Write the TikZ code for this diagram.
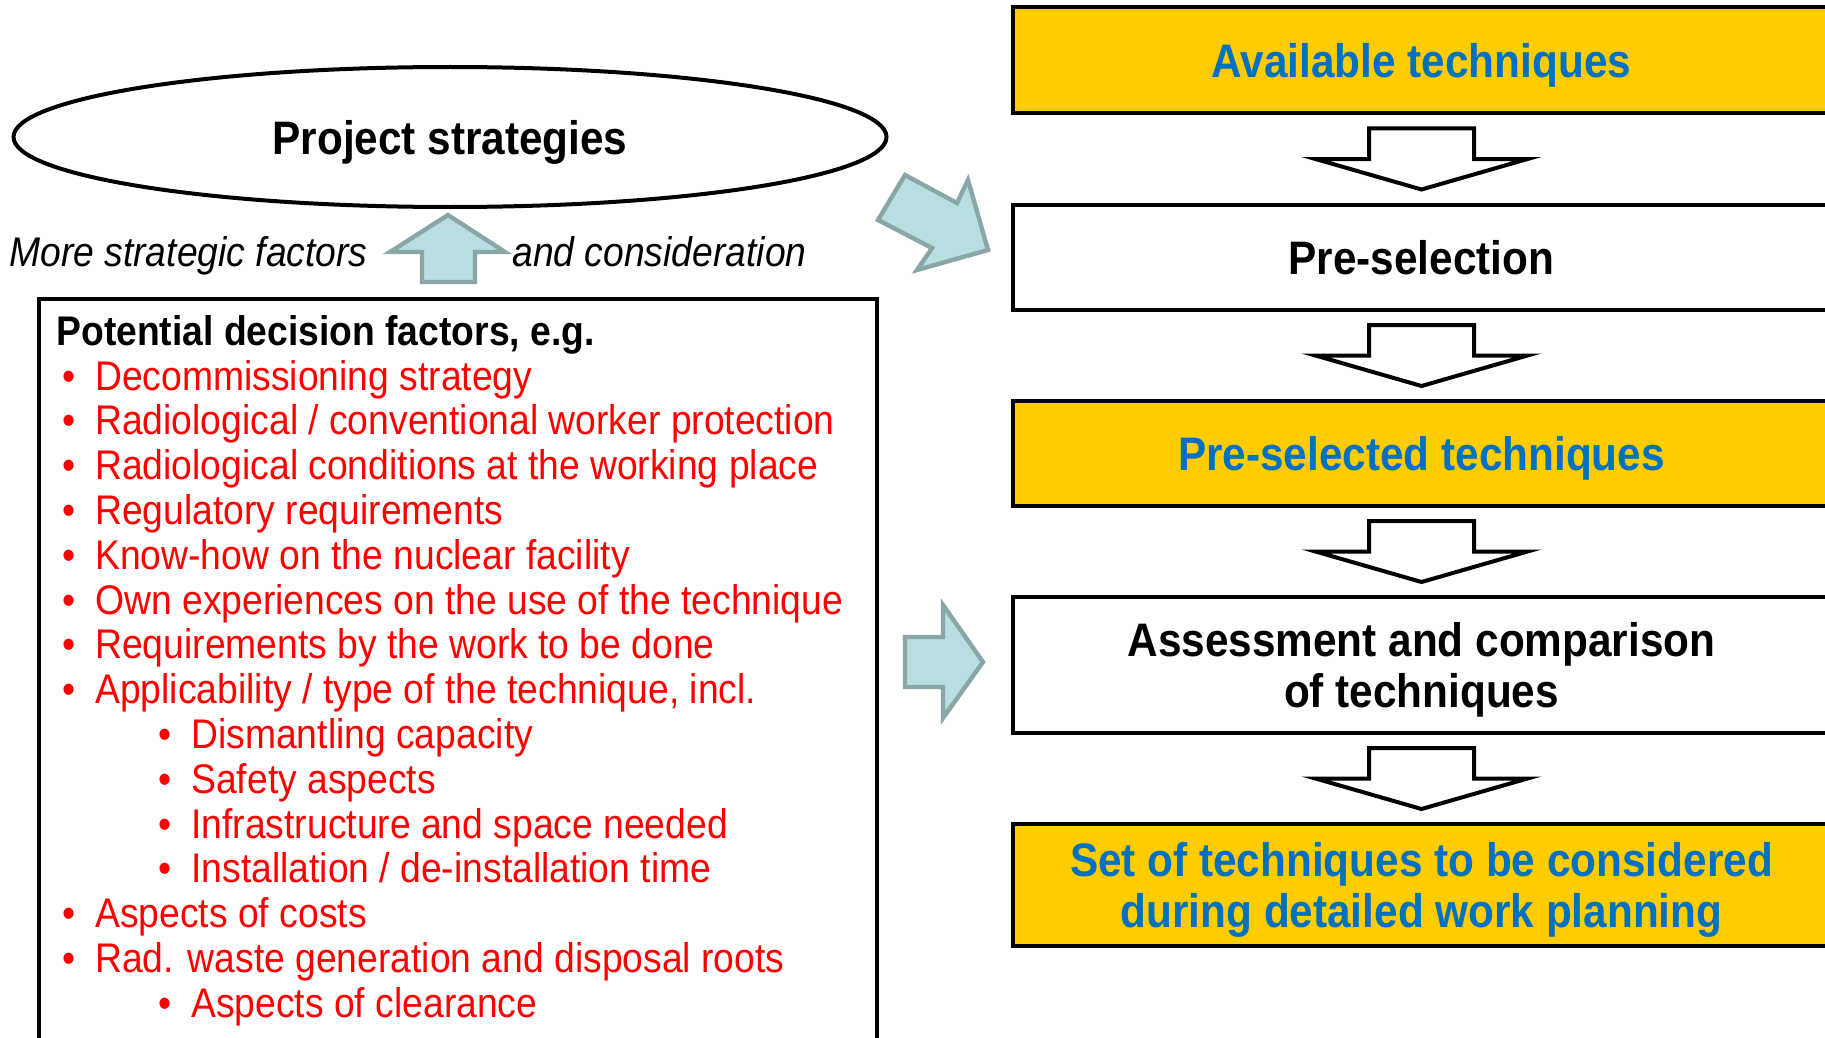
\documentclass[tikz,border=0pt]{standalone}
\usepackage{fontspec}
\setmainfont{Liberation Sans}[FakeStretch=0.9]
\usetikzlibrary{shapes.geometric,calc}
\definecolor{sunyellow}{HTML}{FFCC00}
\definecolor{techblue}{HTML}{0070C0}
\definecolor{arrowfill}{HTML}{B7DEE1}
\definecolor{arrowrim}{HTML}{8AA6A8}
\newcommand{\boxfont}{\bfseries\fontsize{23.5}{25.5}\selectfont}
\newcommand{\listfont}{\fontsize{20.7}{22.4}\selectfont}

\begin{document}
\begin{tikzpicture}[x=0.5pt,y=-0.5pt,
  stepbox/.style={draw,line width=2pt,minimum width=408.5pt,align=center,text depth=0pt,font=\boxfont},
  yellowbox/.style={stepbox,fill=sunyellow,text=techblue},
  whitebox/.style={stepbox,fill=white},
  hollowdown/.style={draw,line width=2pt,fill=white,line join=miter},
  bluearrow/.style={draw=arrowrim,fill=arrowfill,line width=2.2pt},
  factor/.style={anchor=base west,font=\listfont,text=red,inner sep=0pt}]
\useasboundingbox (0,0) rectangle (1825,1038);
\clip (0,0) rectangle (1825,1038);
\fill[white] (0,0) rectangle (1825,1038);
\node[yellowbox,minimum height=53pt] (avail) at (1421.5,60) {Available techniques};
\node[whitebox,minimum height=52.5pt] (presel) at (1421.5,257.5) {Pre-selection};
\node[yellowbox,minimum height=52.5pt] (preseltech) at (1421.5,453.5) {Pre-selected techniques};
\node[whitebox,minimum height=68pt] (assess) at (1421.5,665) {Assessment and comparison\\of techniques};
\node[yellowbox,minimum height=61pt] (workset) at (1421.5,885) {Set of techniques to be considered\\during detailed work planning};
\foreach \a/\b in {avail/presel,presel/preseltech,preseltech/assess,assess/workset}
  \draw[hollowdown] ($(\a.south)!0.5!(\b.north)$) ++(-52.5,-30.5) -- ++(105,0) -- ++(0,30.5)
    -- ++(53.5,0) -- ++(-106,30.5) -- ++(-106,-30.5) -- ++(53.5,0) -- cycle;
\node[draw,ellipse,line width=2pt,minimum width=436.5pt,minimum height=70pt,text depth=0pt,font=\boxfont] (strategy) at (450,137) {Project strategies};
\node[anchor=base west,font=\listfont\itshape,inner sep=0pt] (morefac) at (9,266) {More strategic factors};
\node[anchor=base west,font=\listfont\itshape,inner sep=0pt] (consider) at (512,266) {and consideration};
\draw[bluearrow] (448,215) -- (505,252) -- (475,252) -- (475,282) -- (422,282) -- (422,252) -- (390,252) -- cycle;
\draw[bluearrow] (905,175) -- (957,203) -- (968,180) -- (988,250) -- (917,270) -- (932,248) -- (878,220) -- cycle;
\draw[bluearrow] (905,637) -- (943,637) -- (943,605) -- (983,662) -- (943,718) -- (943,687) -- (905,687) -- cycle;
\node[draw,line width=2pt,anchor=north west,minimum width=419pt,minimum height=374pt,inner sep=0pt] (factors) at (37,297) {};
\node[anchor=base west,font=\listfont\bfseries,inner sep=0pt] (factorhead) at (56,345) {Potential decision factors, e.g.};
\foreach \xpos/\txt [count=\k] in {95/{Decommissioning strategy},
    95/{Radiological / conventional worker protection},
    95/{Radiological conditions at the working place},
    95/{Regulatory requirements},
    95/{Know-how on the nuclear facility},
    95/{Own experiences on the use of the technique},
    95/{Requirements by the work to be done},
    95/{Applicability / type of the technique, incl.},
    191/{Dismantling capacity},
    191/{Safety aspects},
    191/{Infrastructure and space needed},
    191/{Installation / de-installation time},
    95/{Aspects of costs},
    95/{Rad. waste generation and disposal roots},
    191/{Aspects of clearance}}
  \node[factor] (f\k) at ({\xpos},{390+44.8*(\k-1)}) {\llap{\textbullet\hspace{10pt}}\txt};
\end{tikzpicture}
\end{document}
